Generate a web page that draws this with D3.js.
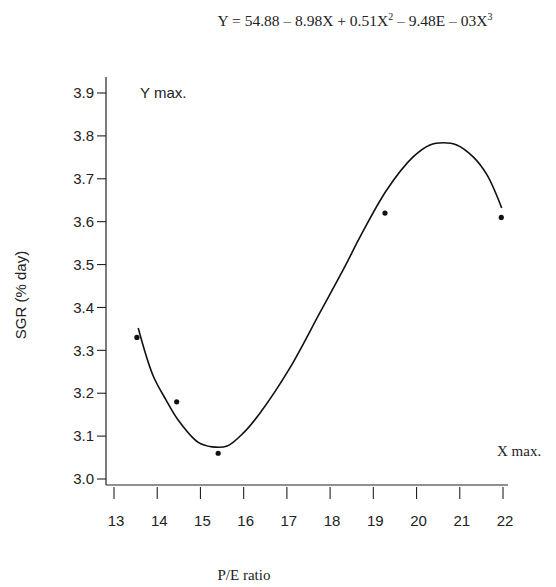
<!DOCTYPE html>
<html>
<head>
<meta charset="utf-8">
<script src="https://cdn.jsdelivr.net/npm/d3@7.9.0/dist/d3.min.js"></script>
<style>
  body { margin: 0; background: #fff; }
  svg { display: block; }
  .tick-label { font-family: "Liberation Sans", Arial, sans-serif; font-size: 15px; fill: #222; }
  .serif { font-family: "Liberation Serif", "Times New Roman", serif; fill: #222; }
</style>
</head>
<body>
<svg id="chart" width="556" height="587"></svg>
<script>
// observed points (P/E ratio, SGR)
const peRatio = [13.53, 14.45, 15.41, 19.27, 21.96];
const sgr = [3.33, 3.18, 3.06, 3.62, 3.61];

// fitted curve
const fitX = [13.56, 13.9, 14.2, 14.48, 14.94, 15.27, 15.62, 16.0, 16.38, 17.07, 17.77, 18.35, 18.69, 19.31, 19.92, 20.31, 20.62, 20.93, 21.31, 21.63, 21.97];
const fitY = [3.352, 3.242, 3.185, 3.138, 3.086, 3.075, 3.077, 3.108, 3.154, 3.259, 3.389, 3.497, 3.564, 3.674, 3.751, 3.779, 3.784, 3.779, 3.751, 3.709, 3.632];

const xTicks = [13, 14, 15, 16, 17, 18, 19, 20, 21, 22];
const yTicks = [3.0, 3.1, 3.2, 3.3, 3.4, 3.5, 3.6, 3.7, 3.8, 3.9];

const svg = d3.select('#chart');

let x = d3.scaleLinear().domain([13, 22]).range([114, 503]);
let y = d3.scaleLinear().domain([3.0, 3.9]).range([479, 93]);

const axisX = 106, axisY = 485;

// axis lines
svg.append('line')
  .attr('x1', axisX).attr('x2', axisX)
  .attr('y1', 77).attr('y2', axisY)
  .attr('stroke', '#222').attr('stroke-width', 1.2);
svg.append('line')
  .attr('x1', axisX).attr('x2', 508)
  .attr('y1', axisY).attr('y2', axisY)
  .attr('stroke', '#222').attr('stroke-width', 1.2);

// y ticks
yTicks.forEach(t => {
  svg.append('line')
    .attr('x1', axisX - 9).attr('x2', axisX)
    .attr('y1', y(t)).attr('y2', y(t))
    .attr('stroke', '#222').attr('stroke-width', 1.1);
  svg.append('text')
    .attr('class', 'tick-label')
    .attr('x', axisX - 12).attr('y', y(t))
    .attr('dy', '0.35em')
    .attr('text-anchor', 'end')
    .text(d3.format('.1f')(t));
});

// x ticks
xTicks.forEach(t => {
  svg.append('line')
    .attr('x1', x(t)).attr('x2', x(t))
    .attr('y1', axisY + 2).attr('y2', axisY + 14)
    .attr('stroke', '#222').attr('stroke-width', 1.1);
  svg.append('text')
    .attr('class', 'tick-label')
    .attr('x', x(t) + 2).attr('y', 526)
    .attr('text-anchor', 'middle')
    .text(t);
});

// fitted curve
let line = d3.line()
  .x(d => x(d[0]))
  .y(d => y(d[1]))
  .curve(d3.curveCatmullRom);

svg.append('path')
  .attr('d', line(fitX.map((v, i) => [v, fitY[i]])))
  .attr('fill', 'none')
  .attr('stroke', '#111')
  .attr('stroke-width', 1.6);

// points
peRatio.forEach((v, i) => {
  svg.append('circle')
    .attr('cx', x(v)).attr('cy', y(sgr[i]))
    .attr('r', 2.6)
    .attr('fill', '#111');
});

// equation
let eq = svg.append('text')
  .attr('class', 'serif')
  .attr('x', 355).attr('y', 26)
  .attr('text-anchor', 'middle')
  .attr('font-size', 15.5);
eq.append('tspan').text('Y = 54.88 \u2013 8.98X + 0.51X');
eq.append('tspan').attr('dy', -6).attr('font-size', 10).text('2');
eq.append('tspan').attr('dy', 6).text(' \u2013 9.48E \u2013 03X');
eq.append('tspan').attr('dy', -6).attr('font-size', 10).text('3');

// annotations
svg.append('text')
  .attr('class', 'tick-label')
  .attr('x', 140).attr('y', 98)
  .text('Y max.');

svg.append('text')
  .attr('class', 'serif')
  .attr('font-size', 15)
  .attr('x', 497).attr('y', 456)
  .text('X max.');

// axis titles
svg.append('text')
  .attr('class', 'tick-label')
  .attr('transform', 'translate(26,295) rotate(-90)')
  .attr('text-anchor', 'middle')
  .text('SGR (% day)');

svg.append('text')
  .attr('class', 'serif')
  .attr('font-size', 15)
  .attr('x', 244).attr('y', 580)
  .attr('text-anchor', 'middle')
  .text('P/E ratio');
</script>
</body>
</html>
